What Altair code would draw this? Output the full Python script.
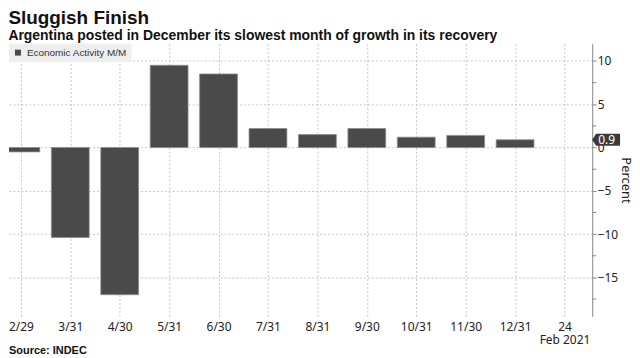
import altair as alt
import pandas as pd

x_labels = ["2/29", "3/31", "4/30", "5/31", "6/30", "7/31", "8/31", "9/30",
            "10/31", "11/30", "12/31", "24"]
release_line2 = "Feb 2021"
values = [-0.5, -10.4, -17.0, 9.5, 8.5, 2.2, 1.5, 2.2, 1.2, 1.4, 0.9]
series_name = "Economic Activity M/M"
y_major = [-15, -10, -5, 0, 5, 10]
y_minor = [-17.5, -12.5, -7.5, -2.5, 2.5, 7.5]

W, H = 586, 274
TICK_FONT = "Noto Sans"
GRID = "#c6c6c6"

df = pd.DataFrame({"idx": list(range(len(values))), "value": values,
                   "series": [series_name] * len(values)})
last = pd.DataFrame({"idx": [len(values) - 1], "value": [values[-1]],
                     "label": [f"{values[-1]:.1f}"]})
minor_df = pd.DataFrame({"value": y_minor})

lab_list = ",".join(f"'{l}'" for l in x_labels)
label_expr = (f"datum.value == {len(x_labels)-1} ? ['{x_labels[-1]}', '{release_line2}'] : "
              f"[{lab_list}][datum.value]")

xscale = alt.Scale(domain=[-0.24, 11.56], nice=False, zero=False, padding=0)
yscale = alt.Scale(domain=[-19.5, 12], nice=False, zero=False, padding=0)

bars = alt.Chart(df).mark_bar(width=38, stroke="#8c8c8c", strokeWidth=0.8, clip=True).encode(
    x=alt.X("idx:Q", scale=xscale, title=None,
            axis=alt.Axis(values=list(range(len(x_labels))), labelExpr=label_expr,
                          domain=False, ticks=False, grid=True, gridColor=GRID,
                          gridDash=[2, 2], labelFont=TICK_FONT, labelFontSize=12,
                          labelColor="#222", labelPadding=5, labelLineHeight=13,
                          labelBaseline="top", labelOverlap=False)),
    y=alt.Y("value:Q", scale=yscale, title="Percent",
            axis=alt.Axis(orient="right", values=y_major, labelOverlap=False,
                          grid=True, gridColor=GRID, gridDash=[2, 2],
                          domainColor="#888", tickColor="#888", tickSize=4,
                          labelFont=TICK_FONT, labelFontSize=12, labelColor="#222",
                          labelPadding=1, titleFont=TICK_FONT, titleFontSize=13,
                          titleFontWeight="normal", titleColor="#222", titlePadding=1)),
    color=alt.Color("series:N", scale=alt.Scale(range=["#4a4a4a"]),
                    legend=alt.Legend(title=None, orient="none", legendX=0, legendY=0,
                                      fillColor="#eeeeee", padding=4, symbolType="square",
                                      symbolSize=36, symbolStrokeWidth=0,
                                      labelFont="Liberation Sans", labelFontSize=10,
                                      labelColor="#333")),
)

minor = alt.Chart(minor_df).mark_rule(color="#888", strokeWidth=1).encode(
    x=alt.value(W), x2=alt.value(W + 4), y=alt.Y("value:Q", scale=yscale))

box_shape = "M-1,0 L-0.72,-0.43 L1,-0.43 L1,0.43 L-0.72,0.43 Z"
box = alt.Chart(last).mark_point(shape=box_shape, size=784, filled=True,
                                 color="#3a3a3a", opacity=1).encode(
    x=alt.value(W + 14), y=alt.Y("value:Q", scale=yscale))
box_text = alt.Chart(last).mark_text(color="white", align="left", baseline="middle",
                                     font=TICK_FONT, fontSize=12).encode(
    x=alt.value(W + 6), y=alt.Y("value:Q", scale=yscale), text="label:N")

source = alt.Chart(last).mark_text(align="left", baseline="middle", fontSize=11,
                                   fontWeight="bold", font="Liberation Sans",
                                   color="#111").encode(
    x=alt.value(0), y=alt.value(H + 35), text=alt.value("Source: INDEC"))

chart = alt.layer(bars, minor, box, box_text, source).properties(
    width=W, height=H,
    padding=0,
    title=alt.TitleParams(
        "Sluggish Finish",
        subtitle="Argentina posted in December its slowest month of growth in its recovery",
        anchor="start", font="Liberation Sans", fontSize=19, fontWeight="bold",
        color="#111", subtitleFont="Liberation Sans", subtitleFontSize=14,
        subtitleFontWeight="bold", subtitleColor="#111", subtitlePadding=1,
        offset=1),
).configure_view(stroke=None)

chart.save("out.html", embed_options={"renderer": "svg", "actions": False})
